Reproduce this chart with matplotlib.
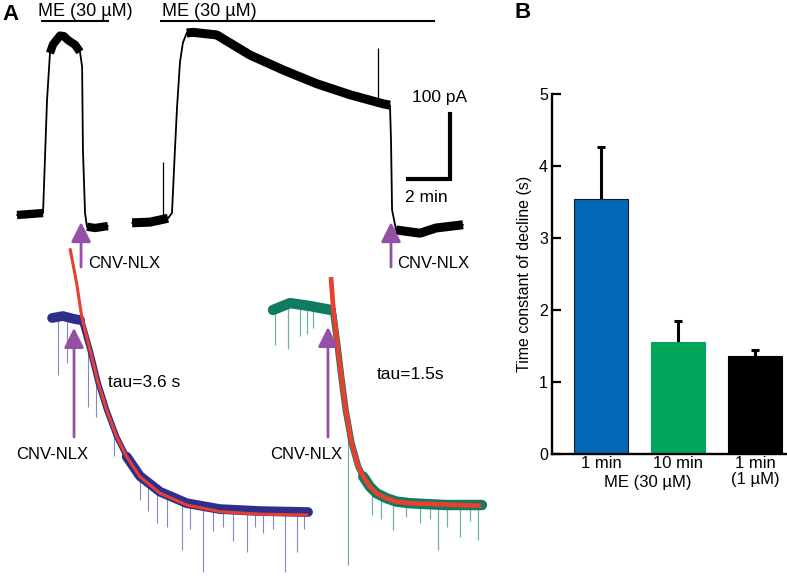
"""Recording traces (panel A) and decay time constants (panel B)."""

import matplotlib

matplotlib.use("Agg")
import matplotlib.pyplot as plt
import numpy as np

plt.rcParams["font.family"] = ["Liberation Sans", "DejaVu Sans"]

W, H = 787, 578

# --- panel A, upper recording: time (min), current (pA) ---
TRACE1_T = [0, 1.24, 1.43, 1.57, 1.71, 1.95, 2.05, 2.24, 2.43, 2.76, 3.0, 3.10, 3.14, 3.24, 3.33, 3.71, 4.33]
TRACE1_I = [0, 3, 177, 249, 262, 272, 276, 275, 269, 262, 251, 228, 100, 3, -18, -20, -17]
TRACE1_NOISY = [(0, 1.24), (1.57, 3.0), (3.3, 4.33)]

TRACE2_T = [5.48, 6.33, 7.19, 7.38, 7.52, 7.62, 7.76, 7.90, 8.08, 8.40, 9.51, 11.10, 12.68,
            14.27, 15.86, 17.44, 17.76, 17.81, 17.86, 18.05, 19.19, 19.95, 21.24]
TRACE2_I = [-12, -11, -5, 3, 100, 165, 235, 265, 280, 281, 277, 246, 223,
            202, 185, 171, 169, 115, 8, -23, -28, -20, -15]
TRACE2_NOISY = [(5.48, 7.19), (8.0, 17.76), (18.0, 21.24)]

TOP_SPIKE_T = [6.95, 17.19]
TOP_SPIKE_TO = [82, 257]

ME_BARS = [(1.14, 4.38), (6.81, 19.90)]
ME_LABEL = "ME (30 µM)"
SCALE_MIN, SCALE_PA = 2, 100

# --- panel A, lower traces: time (s), normalised current ---
BLUE_T = [-2.43, -1.5, -0.5, 0.0, 0.15, 0.87, 1.59, 2.32, 3.19, 4.06, 5.22, 6.96, 9.28, 12.17, 15.65, 19.83]
BLUE_I = [1.0, 1.01, 0.995, 0.99, 0.985, 0.838, 0.669, 0.533, 0.397, 0.296, 0.197, 0.118, 0.06, 0.03, 0.02, 0.015]
BLUE_NOISY = [(-2.43, 0.0), (4.06, 19.83)]
BLUE_SPIKE_T = [-1.91, -1.13, 0.70, 1.40, 3.0, 5.22, 5.9, 6.70, 7.6, 8.87, 9.6, 10.70, 11.57, 12.4,
                13.30, 14.52, 15.2, 15.91, 16.8, 17.83, 18.87, 19.5]
BLUE_SPIKE_I = [0.71, 0.77, 0.55, 0.50, 0.30, 0.076, 0.02, -0.04, -0.06, -0.18, -0.07, -0.29, -0.08, -0.06,
                -0.13, -0.19, -0.06, -0.09, -0.07, -0.29, -0.19, -0.07]
FIT1_T = [-0.87, -0.29, 0.15, 0.87, 1.59, 2.32, 3.19, 4.06, 5.22, 6.96, 9.28, 12.17, 15.65, 19.85]
FIT1_I = [1.354, 1.176, 1.007, 0.838, 0.669, 0.533, 0.397, 0.296, 0.194, 0.110, 0.051, 0.017, 0.004, 0.0]

GREEN_T = [-5.13, -3.65, -1.91, -0.09, 0.12, 0.46, 0.81, 1.19, 1.71, 2.29, 2.72, 3.30, 3.89, 4.75,
           5.63, 6.78, 9.83, 13.04]
GREEN_I = [0.99, 1.025, 1.01, 0.99, 0.97, 0.821, 0.651, 0.482, 0.313, 0.194, 0.144, 0.093, 0.059, 0.034,
           0.017, 0.009, 0.0, 0.0]
GREEN_NOISY = [(-5.13, -0.09), (2.72, 13.04)]
GREEN_SPIKE_T = [-4.96, -3.83, -2.78, -2.17, -1.65, 1.39, 3.48, 4.3, 5.30, 6.4, 7.65, 8.5, 9.22, 10.0,
                 11.13, 12.0, 12.70]
GREEN_SPIKE_I = [0.81, 0.79, 0.86, 0.87, 0.90, -0.305, -0.05, -0.07, -0.127, -0.06, -0.091, -0.07,
                 -0.228, -0.112, -0.162, -0.08, -0.178]
FIT2_T = [-0.09, 0.12, 0.46, 0.81, 1.19, 1.71, 2.29, 2.72, 3.30, 3.89, 4.75, 5.63, 6.78, 13.0]
FIT2_I = [1.157, 0.99, 0.821, 0.651, 0.482, 0.313, 0.194, 0.144, 0.093, 0.059, 0.034, 0.017, 0.009, -0.004]

TAU_LABELS = ["tau=3.6 s", "tau=1.5s"]

# --- panel B ---
GROUPS = ["1 min", "10 min", "1 min\n(1 µM)"]
TAU_MEAN = [3.54, 1.56, 1.36]
TAU_SEM = [0.73, 0.29, 0.08]
BAR_COLORS = ["#0068b4", "#00a65a", "#000000"]

PURPLE = "#9450a5"
RED = "#e8402f"


def overlay_axes(fig, x0_px, y0_px, px_per_x, px_per_y):
    ax = fig.add_axes([0, 0, 1, 1])
    ax.set_xlim(-x0_px / px_per_x, (W - x0_px) / px_per_x)
    ax.set_ylim((y0_px - H) / px_per_y, y0_px / px_per_y)
    ax.axis("off")
    ax.patch.set_alpha(0)
    return ax


def draw_trace(ax, t, i, noisy, color, lw_band, lw_thin=1.3, cap="butt"):
    t = np.asarray(t)
    i = np.asarray(i)
    ax.plot(t, i, color=color, lw=lw_thin, solid_joinstyle="round", solid_capstyle="round")
    for lo, hi in noisy:
        m = (t >= lo - 1e-9) & (t <= hi + 1e-9)
        ax.plot(t[m], i[m], color=color, lw=lw_band, solid_capstyle=cap, solid_joinstyle="round")


def spikes(ax, t, i, spike_t, spike_i, color, lw):
    ax.vlines(spike_t, np.interp(spike_t, t, i), spike_i, color=color, lw=lw)


def arrow(ax, x, tip, bottom):
    ax.annotate("", xy=(x, tip), xytext=(x, bottom),
                arrowprops=dict(arrowstyle="-|>,head_length=0.6,head_width=0.3",
                                mutation_scale=20, color=PURPLE, lw=2.0,
                                shrinkA=0, shrinkB=0))


fig = plt.figure(figsize=(W / 100, H / 100), dpi=100)

# panel B
ax_bar = fig.add_axes([552 / W, 124 / H, 234 / W, 360 / H])
x = np.arange(len(GROUPS))
ax_bar.errorbar(x, TAU_MEAN, yerr=TAU_SEM, fmt="none", ecolor="black",
                elinewidth=2.2, capsize=2.6, capthick=2.2, zorder=1)
ax_bar.bar(x, TAU_MEAN, width=0.7, color=BAR_COLORS,
           edgecolor=["#1a1a1a", "#00a65a", "#000000"], linewidth=0.8, zorder=2)
ax_bar.set_xlim(-0.636, 2.40)
ax_bar.set_ylim(0, 5)
ax_bar.set_yticks(range(6))
ax_bar.set_xticks(x)
ax_bar.set_xticklabels(GROUPS, fontsize=12, linespacing=1.05)
ax_bar.tick_params(axis="y", direction="in", length=6.5, width=1.6, pad=3, labelsize=11.5)
ax_bar.tick_params(axis="x", length=0, pad=1.5)
for side in ("top", "right"):
    ax_bar.spines[side].set_visible(False)
for side in ("left", "bottom"):
    ax_bar.spines[side].set_linewidth(1.7)
ax_bar.set_ylabel("Time constant of decline (s)", fontsize=11.5, labelpad=5)
ax_bar.text(0.6, -0.092, ME_LABEL, transform=ax_bar.get_xaxis_transform(),
            ha="center", va="baseline", fontsize=12)

# panel A, upper traces (21 px per min, 0.65 px per pA)
ax_top = overlay_axes(fig, 17, 215, 21, 0.65)
draw_trace(ax_top, TRACE1_T, TRACE1_I, TRACE1_NOISY, "black", 6)
draw_trace(ax_top, TRACE2_T, TRACE2_I, TRACE2_NOISY, "black", 6.5)
spikes(ax_top, TRACE2_T, TRACE2_I, TOP_SPIKE_T, TOP_SPIKE_TO, "black", 0.9)
for t0, t1 in ME_BARS:
    ax_top.hlines(298, t0, t1, color="black", lw=1.5)
ax_top.text(3.24, 306, ME_LABEL, ha="center", va="baseline", fontsize=13)
ax_top.text(6.9, 306, ME_LABEL, ha="left", va="baseline", fontsize=13)
# scale bar
ax_top.plot([20.62 - SCALE_MIN, 20.62, 20.62], [55, 55, 55 + SCALE_PA],
            color="black", lw=3, solid_capstyle="projecting", solid_joinstyle="miter")
ax_top.text(20.12, 174, "100 pA", ha="center", va="baseline", fontsize=12.5)
ax_top.text(19.48, 20, "2 min", ha="center", va="baseline", fontsize=12.5)
for xa, xl in [(3.05, 3.38), (17.81, 18.1)]:
    arrow(ax_top, xa, -10.8, -80)
    ax_top.text(xl, -81.5, "CNV-NLX", ha="left", va="baseline", fontsize=12)

# panel A, lower traces (11.5 px per s, 197 px per unit of normalised current)
ax_blue = overlay_axes(fig, 80, 515, 11.5, 197)
spikes(ax_blue, BLUE_T, BLUE_I, BLUE_SPIKE_T, BLUE_SPIKE_I, "#8487c6", 0.8)
draw_trace(ax_blue, BLUE_T, BLUE_I, BLUE_NOISY, "#2e2f8c", 7, lw_thin=4, cap="round")
ax_blue.plot(FIT1_T, FIT1_I, color=RED, lw=2.2, solid_capstyle="butt")
arrow(ax_blue, -0.52, 0.95, 0.396)
ax_blue.text(-2.39, 0.284, "CNV-NLX", ha="center", va="baseline", fontsize=12)
ax_blue.text(2.43, 0.65, TAU_LABELS[0], ha="left", va="baseline", fontsize=12.5)

ax_green = overlay_axes(fig, 332, 505, 11.5, 197)
spikes(ax_green, GREEN_T, GREEN_I, GREEN_SPIKE_T, GREEN_SPIKE_I, "#6bb5a5", 0.9)
draw_trace(ax_green, GREEN_T, GREEN_I, GREEN_NOISY, "#0f7b62", 7.5, lw_thin=4.5, cap="round")
ax_green.plot(FIT2_T, FIT2_I, color=RED, lw=3.4, solid_capstyle="butt")
arrow(ax_green, -0.35, 0.904, 0.345)
ax_green.text(-2.26, 0.234, "CNV-NLX", ha="center", va="baseline", fontsize=12)
ax_green.text(3.91, 0.64, TAU_LABELS[1], ha="left", va="baseline", fontsize=12.5)

fig.text(2 / W, 1 - 15 / H, "A", ha="left", va="center", fontsize=16, weight="bold")
fig.text(523 / W, 1 - 12 / H, "B", ha="center", va="center", fontsize=16, weight="bold")

fig.savefig("out.png", dpi=100)
plt.close(fig)
